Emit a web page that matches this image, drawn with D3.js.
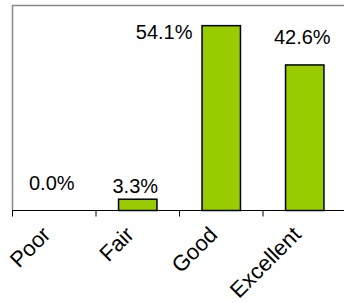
<!DOCTYPE html>
<html>
<head>
<meta charset="utf-8">
<script src="https://cdn.jsdelivr.net/npm/d3@7"></script>
<style>
  body { margin: 0; background: #fff; }
  text { font-family: Arial, "Liberation Sans", sans-serif; }
</style>
</head>
<body>
<svg width="344" height="303"></svg>
<script>
const width = 344;
const height = 303;

var categories = ["Poor", "Fair", "Good", "Excellent"];
var values = [0.0, 3.3, 54.1, 42.6];
var yTicks = [0, 60];

var margin = { top: 5, left: 12, bottom: 93 };
var plotW = 334;

var svg = d3.select("svg");

var x = d3.scaleBand()
    .domain(categories)
    .range([margin.left, margin.left + plotW])
    .paddingInner(0.54)
    .paddingOuter(0.27);

var y = d3.scaleLinear()
    .domain([yTicks[0], yTicks[1]])
    .range([height - margin.bottom, margin.top]);

var band = d3.scaleBand().domain(categories).range([margin.left, margin.left + plotW]);

// plot frame (top + left, gray)
svg.append("path")
    .attr("d", "M" + (margin.left + 0.5) + "," + (height - margin.bottom) +
        "V" + (margin.top + 0.5) + "H" + width)
    .attr("fill", "none")
    .attr("stroke", "#888")
    .attr("stroke-width", 1.5);

// bars
svg.selectAll("rect.bar")
    .data(values)
    .enter().append("rect")
    .attr("class", "bar")
    .attr("x", function (d, i) { return x(categories[i]) + 0.5; })
    .attr("y", function (d) { return y(d) + 0.5; })
    .attr("width", x.bandwidth())
    .attr("height", function (d) { return y(0) - y(d); })
    .attr("fill", "#99CC00")
    .attr("stroke", "#000")
    .attr("stroke-width", 1.5);

// x axis
var gx = svg.append("g")
    .attr("transform", "translate(0," + (y(0) + 0.5) + ")")
    .call(d3.axisBottom(band).tickSize(0).tickFormat(""));
gx.select(".domain").attr("stroke", "#000").attr("d", "M" + margin.left + ",0H" + width);
gx.selectAll(".tick").remove();
categories.concat(["_end"]).forEach(function (c, i) {
    var tx = margin.left + i * band.step() + 0.5;
    gx.append("line").attr("x1", tx).attr("x2", tx).attr("y1", 0).attr("y2", 6)
        .attr("stroke", "#000");
});

// category labels, rotated
svg.selectAll("text.cat")
    .data(categories)
    .enter().append("text")
    .attr("class", "cat")
    .attr("text-anchor", "end")
    .attr("font-size", 22)
    .attr("transform", function (d) {
        var cx = band(d) + band.bandwidth() / 2 - 2;
        return "translate(" + cx + "," + (y(0) + 26) + ") rotate(-45)";
    })
    .text(function (d) { return d; });

// value labels
var fmt = function (v) { return v.toFixed(1) + "%"; };
var labelGap = [20, 6, 0, 20];
var tooHigh = function (d) { return y(d) - 20 < margin.top + 10; };
svg.selectAll("text.val")
    .data(values)
    .enter().append("text")
    .attr("class", "val")
    .attr("font-size", 20)
    .attr("text-anchor", function (d) { return tooHigh(d) ? "end" : "middle"; })
    .attr("x", function (d, i) {
        var c = categories[i];
        if (tooHigh(d)) return x(c) - 9;
        return x(c) + x.bandwidth() / 2 - 2;
    })
    .attr("y", function (d, i) {
        if (tooHigh(d)) return y(d) + 13.5;
        return y(d) - labelGap[i];
    })
    .text(fmt);
</script>
</body>
</html>
